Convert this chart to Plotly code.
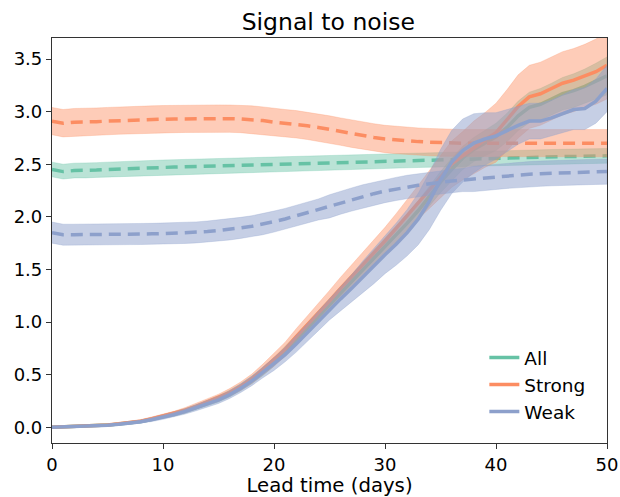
import plotly.graph_objects as go

days = list(range(51))

# Growing signal-to-noise (solid lines), mean values per lead day
all_solid = [0.0, 0.003, 0.006, 0.01, 0.015, 0.02, 0.03, 0.04, 0.055, 0.075,
             0.1, 0.125, 0.155, 0.19, 0.23, 0.27, 0.32, 0.38, 0.45, 0.53,
             0.62, 0.72, 0.83, 0.94, 1.05, 1.16, 1.27, 1.38, 1.49, 1.6,
             1.71, 1.82, 1.94, 2.06, 2.2, 2.33, 2.45, 2.56, 2.64, 2.7,
             2.76, 2.85, 2.96, 3.04, 3.07, 3.12, 3.17, 3.2, 3.24, 3.29, 3.34]
strong_solid = [0.0, 0.003, 0.006, 0.01, 0.016, 0.022, 0.032, 0.043, 0.058, 0.08,
                0.105, 0.13, 0.162, 0.198, 0.24, 0.28, 0.33, 0.39, 0.46, 0.55,
                0.64, 0.74, 0.86, 0.97, 1.09, 1.2, 1.32, 1.43, 1.54, 1.66,
                1.77, 1.89, 2.01, 2.14, 2.26, 2.38, 2.5, 2.58, 2.66, 2.73,
                2.8, 2.92, 3.05, 3.14, 3.17, 3.22, 3.27, 3.3, 3.34, 3.38, 3.44]
weak_solid = [0.0, 0.003, 0.006, 0.01, 0.014, 0.019, 0.028, 0.038, 0.052, 0.072,
              0.095, 0.12, 0.15, 0.185, 0.22, 0.26, 0.31, 0.37, 0.44, 0.52,
              0.6, 0.69, 0.79, 0.9, 1.01, 1.12, 1.22, 1.32, 1.43, 1.53,
              1.64, 1.74, 1.85, 1.98, 2.15, 2.35, 2.52, 2.63, 2.7, 2.74,
              2.77, 2.82, 2.87, 2.91, 2.91, 2.94, 2.98, 3.02, 3.03, 3.1, 3.22]

all_solid_sd = [0.0, 0.002, 0.003, 0.004, 0.005, 0.006, 0.008, 0.01, 0.012, 0.015,
                0.018, 0.02, 0.022, 0.025, 0.027, 0.03, 0.032, 0.034, 0.036, 0.038,
                0.04, 0.044, 0.048, 0.052, 0.056, 0.06, 0.064, 0.068, 0.072, 0.076,
                0.08, 0.084, 0.088, 0.092, 0.096, 0.1, 0.105, 0.11, 0.115, 0.12,
                0.13, 0.135, 0.14, 0.145, 0.15, 0.15, 0.155, 0.16, 0.165, 0.17, 0.18]
strong_solid_sd = [0.0, 0.002, 0.004, 0.005, 0.006, 0.008, 0.01, 0.012, 0.015, 0.018,
                   0.02, 0.022, 0.025, 0.028, 0.031, 0.034, 0.037, 0.04, 0.045, 0.05,
                   0.06, 0.068, 0.076, 0.084, 0.092, 0.1, 0.106, 0.112, 0.118, 0.124,
                   0.13, 0.14, 0.15, 0.16, 0.18, 0.2, 0.22, 0.23, 0.25, 0.26,
                   0.28, 0.29, 0.3, 0.3, 0.3, 0.3, 0.3, 0.3, 0.3, 0.31, 0.32]
weak_solid_sd = [0.0, 0.002, 0.004, 0.005, 0.006, 0.008, 0.01, 0.012, 0.015, 0.018,
                 0.02, 0.022, 0.025, 0.028, 0.031, 0.034, 0.037, 0.04, 0.045, 0.05,
                 0.06, 0.068, 0.076, 0.084, 0.092, 0.1, 0.115, 0.13, 0.15, 0.165,
                 0.18, 0.2, 0.22, 0.245, 0.27, 0.29, 0.3, 0.3, 0.28, 0.25,
                 0.22, 0.2, 0.18, 0.17, 0.17, 0.17, 0.18, 0.19, 0.2, 0.21, 0.22]

# Constant-ish signal-to-noise (dashed lines)
all_dash = [2.45, 2.43, 2.44, 2.44, 2.445, 2.45, 2.455, 2.46, 2.46, 2.465,
            2.47, 2.473, 2.476, 2.479, 2.482, 2.485, 2.488, 2.491, 2.494, 2.497,
            2.5, 2.503, 2.506, 2.509, 2.512, 2.515, 2.518, 2.521, 2.524, 2.527,
            2.53, 2.533, 2.536, 2.539, 2.542, 2.545, 2.548, 2.551, 2.554, 2.557,
            2.56, 2.562, 2.564, 2.566, 2.568, 2.57, 2.572, 2.574, 2.576, 2.578, 2.58]
strong_dash = [2.91, 2.89, 2.9, 2.9, 2.905, 2.91, 2.915, 2.92, 2.922, 2.925,
               2.928, 2.93, 2.932, 2.933, 2.934, 2.934, 2.933, 2.93, 2.925, 2.915,
               2.9, 2.89, 2.88, 2.865, 2.85, 2.83, 2.81, 2.79, 2.77, 2.755,
               2.74, 2.73, 2.72, 2.715, 2.71, 2.705, 2.7, 2.7, 2.7, 2.7,
               2.7, 2.7, 2.7, 2.7, 2.7, 2.7, 2.7, 2.7, 2.7, 2.7, 2.7]
weak_dash = [1.85, 1.83, 1.83, 1.83, 1.832, 1.834, 1.835, 1.836, 1.837, 1.838,
             1.84, 1.843, 1.847, 1.852, 1.86, 1.87, 1.88, 1.895, 1.91, 1.93,
             1.955, 1.98, 2.01, 2.04, 2.07, 2.1, 2.135, 2.165, 2.195, 2.22,
             2.245, 2.265, 2.285, 2.3, 2.315, 2.33, 2.34, 2.35, 2.36, 2.37,
             2.38, 2.39, 2.4, 2.405, 2.41, 2.415, 2.42, 2.423, 2.426, 2.428, 2.43]
all_dash_sd = [0.07] * 51
strong_dash_sd = [0.13] * 51
weak_dash_sd = [0.1] * 25 + [0.11] * 13 + [0.12] * 13

series_names = ["All", "Strong", "Weak"]
colors = ["#66c2a5", "#fc8d62", "#8da0cb"]
fills = ["rgba(102,194,165,0.45)", "rgba(252,141,98,0.45)", "rgba(141,160,203,0.5)"]
solids = [all_solid, strong_solid, weak_solid]
solid_sds = [all_solid_sd, strong_solid_sd, weak_solid_sd]
dashes = [all_dash, strong_dash, weak_dash]
dash_sds = [all_dash_sd, strong_dash_sd, weak_dash_sd]

fig = go.Figure()


def band(mean, sd, fill, color):
    upper = [m + s for m, s in zip(mean, sd)]
    lower = [m - s for m, s in zip(mean, sd)]
    return go.Scatter(x=days + days[::-1], y=upper + lower[::-1], fill="toself",
                      fillcolor=fill, line=dict(color=color, width=0.6),
                      opacity=1, mode="lines", showlegend=False, hoverinfo="skip")


for name, c, f, s, ssd, d, dsd in zip(series_names, colors, fills, solids, solid_sds, dashes, dash_sds):
    fig.add_trace(band(d, dsd, f, f))
    fig.add_trace(go.Scatter(x=days, y=d, mode="lines",
                             line=dict(color=c, width=3.5, dash="12px,7px"),
                             showlegend=False))
    fig.add_trace(band(s, ssd, f, f))
    fig.add_trace(go.Scatter(x=days, y=s, mode="lines", name=name,
                             line=dict(color=c, width=3.5)))

fig.update_layout(
    width=620, height=497,
    margin=dict(l=52, r=13, t=38, b=54),
    paper_bgcolor="white", plot_bgcolor="white",
    font=dict(family="DejaVu Sans", size=18, color="black"),
    title=dict(text="Signal to noise", x=0.5295, xanchor="center", y=0.957,
               yanchor="middle", font=dict(size=23.5)),
    legend=dict(x=0.779, y=0.257, xanchor="left", yanchor="top",
                bgcolor="rgba(255,255,255,0)", font=dict(size=18.5),
                tracegroupgap=0),
    xaxis=dict(range=[0, 50], tickvals=[0, 10, 20, 30, 40, 50], automargin=False,
               showgrid=False, zeroline=False, showline=True, linecolor="#333",
               linewidth=1.2, mirror=True, ticks="outside", ticklen=5,
               tickcolor="#333", tickfont=dict(size=18),
               title=dict(text="Lead time (days)", standoff=3,
                          font=dict(family="DejaVu Sans", size=19.7, color="black"))),
    yaxis=dict(range=[-0.15, 3.7], tickvals=[0, 0.5, 1, 1.5, 2, 2.5, 3, 3.5],
               automargin=False, tickfont=dict(size=18),
               tickformat=".1f", showgrid=False, zeroline=False, showline=True,
               linecolor="#333", linewidth=1.2, mirror=True, ticks="outside",
               ticklen=5, tickcolor="#333"),
)

fig.write_html("out.html")
